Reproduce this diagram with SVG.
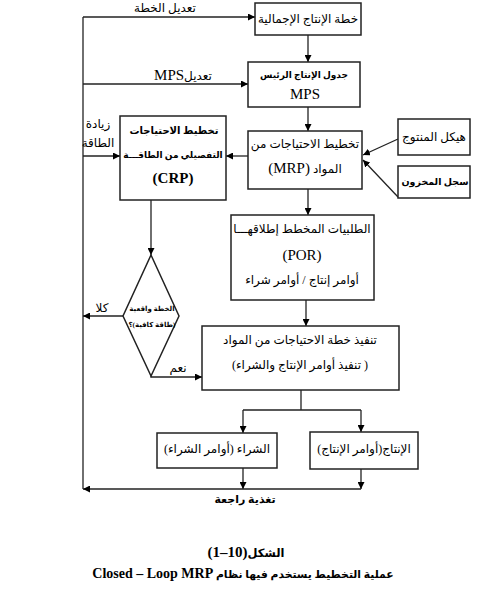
<svg xmlns="http://www.w3.org/2000/svg" width="499" height="598" viewBox="0 0 499 598">
<defs>
<marker id="ah" viewBox="0 0 10 10" refX="10" refY="5" markerWidth="7" markerHeight="7" markerUnits="userSpaceOnUse" orient="auto">
<path d="M0,0 L10,5 L0,10 z" fill="#000"/>
</marker>
<style>
.box{fill:#fff;stroke:#222;stroke-width:1.5}
.ln{fill:none;stroke:#222;stroke-width:1.3}
.ar{fill:none;stroke:#222;stroke-width:1.3;marker-end:url(#ah)}
text{font-family:'Liberation Serif','DejaVu Sans',serif;font-size:12px;fill:#000;text-anchor:middle}
.ab{direction:rtl}
.b{font-weight:bold}
.lat{font-size:15px}
</style>
</defs>
<rect width="499" height="598" fill="#fff"/>
<g id="connectors">
<path class="ar" d="M361,469 V489"/>
<path class="ar" d="M243,468 V489"/>
<path class="ar" d="M361,489 H83"/>
<path class="ln" d="M83,489 V17"/>
<path class="ar" d="M83,17 H255"/>
<path class="ar" d="M83,84 H248"/>
<path class="ar" d="M83,156 H120"/>
<path class="ar" d="M308,35 V62"/>
<path class="ar" d="M308,107 V131"/>
<path class="ar" d="M248,156 H226"/>
<path class="ar" d="M398,139 L363,155"/>
<path class="ar" d="M398,197 L363,160"/>
<path class="ar" d="M308,189 V215"/>
<path class="ar" d="M151,200 V255"/>
<path class="ar" d="M123,316 H83"/>
<path class="ar" d="M151,376 V377 H202"/>
<path class="ar" d="M306,300 V326"/>
<path class="ln" d="M301,390 V410 M243,410 H361"/>
<path class="ar" d="M243,410 V433"/>
<path class="ar" d="M361,410 V432"/>
</g>
<g id="labels">
<text class="ab" x="165" y="12">تعديل الخطة</text>
<text class="ab" x="183" y="80">تعديل<tspan class="lat">MPS</tspan></text>
<text class="ab" x="98" y="128">زيادة</text>
<text class="ab" x="98" y="147">الطاقة</text>
<text class="ab" x="102" y="312">كلا</text>
<text class="ab" x="178" y="372">نعم</text>
<text class="ab b" x="245" y="503" style="font-size:11px">تغذية راجعة</text>
</g>
<g id="n-aggregate">
<rect class="box" x="255" y="3" width="106" height="32"/>
<text class="ab" x="308" y="23">خطة الإنتاج الإجمالية</text>
</g>
<g id="n-mps">
<rect class="box" x="248" y="62" width="112" height="45"/>
<text class="ab b" x="304" y="78" style="font-size:9px">جدول الإنتاج الرئيس</text>
<text class="lat" x="305" y="99">MPS</text>
</g>
<g id="n-crp">
<rect class="box" x="120" y="116" width="106" height="84"/>
<text class="ab b" x="174" y="134" style="font-size:10px">تخطيط الاحتياجات</text>
<text class="ab b" x="173" y="158" style="font-size:9px">التفصيلي من الطاقـــة</text>
<text class="b lat" x="173" y="183">(CRP)</text>
</g>
<g id="n-mrp">
<rect class="box" x="248" y="131" width="114" height="58"/>
<text class="ab" x="305" y="148">تخطيط الاحتياجات من</text>
<text class="ab" x="305" y="173">المواد <tspan class="lat">(MRP)</tspan></text>
</g>
<g id="n-bom">
<rect class="box" x="398" y="119" width="72" height="36"/>
<text class="ab" x="434" y="141">هيكل المنتوج</text>
</g>
<g id="n-inv">
<rect class="box" x="398" y="166" width="72" height="32"/>
<text class="ab b" x="435" y="185" style="font-size:9.5px">سجل المخزون</text>
</g>
<g id="n-por">
<rect class="box" x="231" y="215" width="143" height="85"/>
<text class="ab" x="302" y="233">الطلبيات المخطط إطلاقهـــا</text>
<text class="lat" x="302" y="260">(POR)</text>
<text class="ab" x="302" y="284">أوامر إنتاج / أوامر شراء</text>
</g>
<g id="n-decision">
<path class="box" d="M151,255 L179,316 L151,376 L123,316 z"/>
<text class="ab b" x="152" y="311" style="font-size:7px">الخطة واقعية</text>
<text class="ab b" x="152" y="327" style="font-size:7px">(طاقة كافية)؟</text>
</g>
<g id="n-exec">
<rect class="box" x="202" y="326" width="197" height="64"/>
<text class="ab" x="300" y="344">تنفيذ خطة الاحتياجات من المواد</text>
<text class="ab" x="300" y="369">( تنفيذ أوامر الإنتاج والشراء)</text>
</g>
<g id="n-purchase">
<rect class="box" x="157" y="433" width="120" height="35"/>
<text class="ab" x="217" y="453">الشراء (أوامر الشراء)</text>
</g>
<g id="n-production">
<rect class="box" x="310" y="432" width="108" height="37"/>
<text class="ab" x="364" y="453">الإنتاج(أوامر الإنتاج)</text>
</g>
<g id="caption">
<text class="ab b" x="246" y="557" style="font-size:11.5px">الشكل<tspan style="font-size:15px">(10–1)</tspan></text>
<text class="ab b" x="243" y="578" style="font-size:10.8px">عملية التخطيط يستخدم فيها نظام <tspan style="font-size:14px">Closed – Loop MRP</tspan></text>
</g>
</svg>
